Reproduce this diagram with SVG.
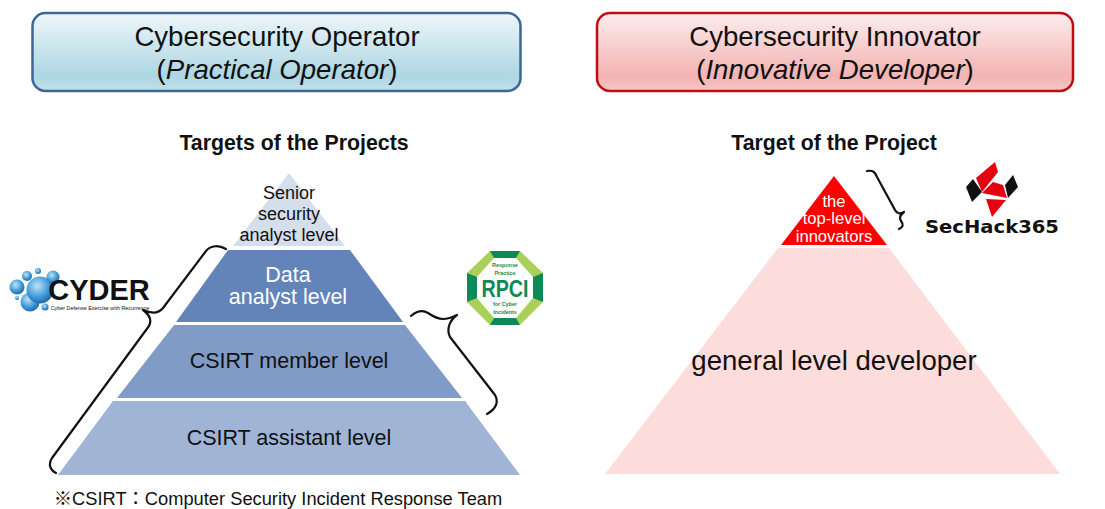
<svg xmlns="http://www.w3.org/2000/svg" width="1105" height="509" viewBox="0 0 1105 509">
<style>
text{font-family:"Liberation Sans",Arial,sans-serif;text-anchor:middle;fill:#111}
.h{font-size:27.6px}
.b{font-size:21.3px;font-weight:bold}
.l{font-size:21.5px}
.s{font-size:18px}
.w{fill:#fff}
.i{fill:#fff;font-size:16.6px}
.g{fill:#0e8a58;font-size:5.4px;font-weight:bold}
.br{fill:none;stroke:#111;stroke-width:2.2;stroke-linecap:round;stroke-linejoin:round}
</style>
<defs>
<linearGradient id="gb" x1="0" y1="0" x2="0" y2="1"><stop offset="0" stop-color="#eef7fa"/><stop offset=".8" stop-color="#aed6e3"/><stop offset="1" stop-color="#c0e0ea"/></linearGradient>
<linearGradient id="gr" x1="0" y1="0" x2="0" y2="1"><stop offset="0" stop-color="#fdeeee"/><stop offset=".8" stop-color="#f3b3b3"/><stop offset="1" stop-color="#f6c6c6"/></linearGradient>
<radialGradient id="bub" cx=".4" cy=".35" r=".7"><stop offset="0" stop-color="#bfe4f7"/><stop offset=".6" stop-color="#3f9ad8"/><stop offset="1" stop-color="#1a5fa8"/></radialGradient>
</defs>
<rect width="1105" height="509" fill="#fff"/>

<g id="operator-header">
<rect x="32.5" y="13" width="488" height="78" rx="13" fill="url(#gb)" stroke="#3f6695" stroke-width="2.5"/>
<text class="h" x="277" y="46">Cybersecurity Operator</text>
<text class="h" x="277" y="79">(<tspan font-style="italic">Practical Operator</tspan>)</text>
</g>
<g id="innovator-header">
<rect x="597" y="13" width="476" height="78" rx="13" fill="url(#gr)" stroke="#c00d14" stroke-width="2.5"/>
<text class="h" x="835" y="46">Cybersecurity Innovator</text>
<text class="h" x="835" y="79">(<tspan font-style="italic">Innovative Developer</tspan>)</text>
</g>

<g id="targets-left"><text class="b" x="294" y="150">Targets of the Projects</text></g>
<g id="targets-right"><text class="b" x="834" y="150">Target of the Project</text></g>

<g id="senior-level">
<polygon points="289,173 345,246 233,246" fill="#d5deeb"/>
<text class="s" x="289" y="199">Senior</text>
<text class="s" x="289" y="220">security</text>
<text class="s" x="289" y="241">analyst level</text>
</g>
<g id="data-analyst-level">
<polygon points="228,250 350,250 403,322 176,322" fill="#6384b8"/>
<text class="l w" x="288" y="282">Data</text>
<text class="l w" x="288" y="304">analyst level</text>
</g>
<g id="csirt-member-level">
<polygon points="174,325 405,325 462,398 117,398" fill="#7f9bc6"/>
<text class="l" x="289" y="368">CSIRT member level</text>
</g>
<g id="csirt-assistant-level">
<polygon points="113,401 465,401 520,475 58,475" fill="#a0b4d5"/>
<text class="l" x="289" y="445">CSIRT assistant level</text>
</g>

<g id="general-developer">
<polygon points="778,248 889,248 1060,474 605,474" fill="#fddcdc"/>
<text x="834" y="370" font-size="27.6">general level developer</text>
</g>
<g id="top-innovators">
<polygon points="834,176 887,245 781,245" fill="#fe0000"/>
<text class="i" x="834" y="207">the</text>
<text class="i" x="834" y="224">top-level</text>
<text class="i" x="834" y="241.5">innovators</text>
</g>

<g id="connectors">
<path class="br" d="M226,249 C219,245 211,245 206,251 L163,308 C159,313 152,314 143,310 C150,315 152,320 149,326 L52,458 C48,464 50,470 56,473"/>
<path class="br" d="M411,316 C417,311 423,310 428,313 C434,317 438,319 443,319 C449,319 453,317 457,315 C450,320 446,329 450,337 L495,395 C499,402 496,409 487,414"/>
<path class="br" d="M867,171 C873,170 875,172 877,177 L895,210 C897,214 900,214 904,212 C900,215 899,218 901,221 C904,225 903,227 899,229"/>
</g>

<g id="cyder-logo">
<circle cx="17" cy="287" r="7.5" fill="url(#bub)"/>
<circle cx="27" cy="276" r="5" fill="url(#bub)"/>
<circle cx="38" cy="271" r="3" fill="url(#bub)"/>
<circle cx="17" cy="298" r="2" fill="url(#bub)"/>
<circle cx="30" cy="302" r="9.5" fill="url(#bub)"/>
<circle cx="40" cy="290" r="13.5" fill="url(#bub)"/>
<circle cx="53" cy="277" r="6.5" fill="url(#bub)"/>
<circle cx="45" cy="307" r="3.5" fill="url(#bub)"/>
<text x="99" y="300" font-size="29" font-weight="bold">CYDER</text>
<text x="100" y="309.5" font-size="5.4">Cyber Defense Exercise with Recurrence</text>
</g>

<g id="rpci-logo">
<polygon points="490,251 520,251 543,273 543,302 520,325 490,325 467,302 467,273" fill="#a9d158"/>
<polygon points="490,251 520,251 516,258 494,258" fill="#0e8a58"/>
<polygon points="494,318 516,318 520,325 490,325" fill="#0e8a58"/>
<polygon points="467,273 477,277 477,298 467,302" fill="#0e8a58"/>
<polygon points="543,273 533,277 533,298 543,302" fill="#0e8a58"/>
<polygon points="494,258 516,258 533,277 533,298 516,318 494,318 477,298 477,277" fill="#fff"/>
<text x="505" y="297" font-size="24" font-weight="bold" style="fill:#0e8a58" textLength="47" lengthAdjust="spacingAndGlyphs">RPCI</text>
<text class="g" x="505" y="267">Response</text>
<text class="g" x="505" y="275">Practice</text>
<text class="g" x="505" y="306">for Cyber</text>
<text class="g" x="505" y="314">Incidents</text>
</g>

<g id="sechack-logo">
<polygon points="995,162 998,172 982,192 976,178" fill="#e60012"/>
<polygon points="982,193 993,182 1003,185 1007,198" fill="#e60012"/>
<polygon points="986,199 1006,200 992,217" fill="#e60012"/>
<polygon points="966,187 973,179 982,192 972,202" fill="#111"/>
<polygon points="1005,185 1013,175 1018,187 1008,198" fill="#111"/>
<text x="992" y="233" font-size="18" font-weight="bold" style="font-family:'DejaVu Sans',sans-serif" textLength="134" lengthAdjust="spacingAndGlyphs">SecHack365</text>
</g>

<g id="footnote"><text x="278" y="505" font-size="18.3" style="font-family:'Liberation Sans','Noto Sans CJK JP',sans-serif">※CSIRT：Computer Security Incident Response Team</text></g>
</svg>
